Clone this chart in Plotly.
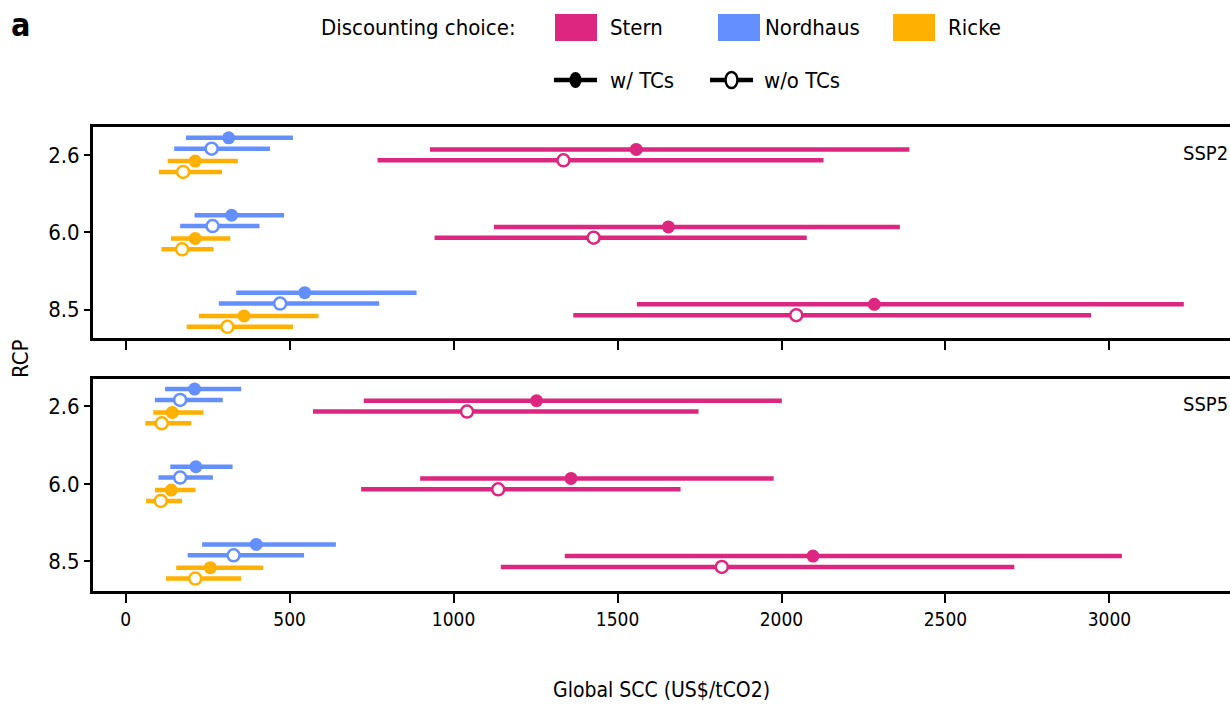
import plotly.graph_objects as go

# ---------------- data ----------------
rcp_labels = ["2.6", "6.0", "8.5"]
panels = ["SSP2", "SSP5"]
methods = ["Nordhaus", "Stern", "Ricke"]

# median, low, high for each RCP (2.6, 6.0, 8.5)
ssp2_stern_w_mid = [1557, 1655, 2283]
ssp2_stern_w_lo = [928, 1123, 1559]
ssp2_stern_w_hi = [2390, 2361, 3227]
ssp2_stern_wo_mid = [1335, 1427, 2045]
ssp2_stern_wo_lo = [768, 942, 1365]
ssp2_stern_wo_hi = [2128, 2077, 2944]

ssp2_nord_w_mid = [314, 323, 546]
ssp2_nord_w_lo = [184, 210, 337]
ssp2_nord_w_hi = [510, 483, 887]
ssp2_nord_wo_mid = [262, 265, 471]
ssp2_nord_wo_lo = [148, 166, 284]
ssp2_nord_wo_hi = [440, 408, 773]

ssp2_ricke_w_mid = [212, 212, 361]
ssp2_ricke_w_lo = [128, 138, 223]
ssp2_ricke_w_hi = [342, 319, 588]
ssp2_ricke_wo_mid = [175, 172, 310]
ssp2_ricke_wo_lo = [101, 109, 186]
ssp2_ricke_wo_hi = [294, 268, 510]

ssp5_stern_w_mid = [1253, 1358, 2096]
ssp5_stern_w_lo = [726, 898, 1339]
ssp5_stern_w_hi = [2001, 1976, 3038]
ssp5_stern_wo_mid = [1041, 1136, 1818]
ssp5_stern_wo_lo = [571, 718, 1144]
ssp5_stern_wo_hi = [1747, 1692, 2710]

ssp5_nord_w_mid = [210, 214, 398]
ssp5_nord_w_lo = [120, 136, 233]
ssp5_nord_w_hi = [352, 326, 641]
ssp5_nord_wo_mid = [166, 166, 329]
ssp5_nord_wo_lo = [89, 100, 189]
ssp5_nord_wo_hi = [296, 266, 544]

ssp5_ricke_w_mid = [142, 139, 258]
ssp5_ricke_w_lo = [84, 89, 154]
ssp5_ricke_w_hi = [237, 213, 419]
ssp5_ricke_wo_mid = [110, 107, 212]
ssp5_ricke_wo_lo = [60, 62, 123]
ssp5_ricke_wo_hi = [200, 172, 352]

colors = {"Stern": "#DC267F", "Nordhaus": "#648FFF", "Ricke": "#FFB000"}
# vertical offsets (in category units) for (method, with TCs?)
offsets = {
    ("Nordhaus", True): -0.22, ("Nordhaus", False): -0.08,
    ("Stern", True): -0.07, ("Stern", False): 0.07,
    ("Ricke", True): 0.08, ("Ricke", False): 0.22,
}

data = {
    ("SSP2", "Stern", True): (ssp2_stern_w_mid, ssp2_stern_w_lo, ssp2_stern_w_hi),
    ("SSP2", "Stern", False): (ssp2_stern_wo_mid, ssp2_stern_wo_lo, ssp2_stern_wo_hi),
    ("SSP2", "Nordhaus", True): (ssp2_nord_w_mid, ssp2_nord_w_lo, ssp2_nord_w_hi),
    ("SSP2", "Nordhaus", False): (ssp2_nord_wo_mid, ssp2_nord_wo_lo, ssp2_nord_wo_hi),
    ("SSP2", "Ricke", True): (ssp2_ricke_w_mid, ssp2_ricke_w_lo, ssp2_ricke_w_hi),
    ("SSP2", "Ricke", False): (ssp2_ricke_wo_mid, ssp2_ricke_wo_lo, ssp2_ricke_wo_hi),
    ("SSP5", "Stern", True): (ssp5_stern_w_mid, ssp5_stern_w_lo, ssp5_stern_w_hi),
    ("SSP5", "Stern", False): (ssp5_stern_wo_mid, ssp5_stern_wo_lo, ssp5_stern_wo_hi),
    ("SSP5", "Nordhaus", True): (ssp5_nord_w_mid, ssp5_nord_w_lo, ssp5_nord_w_hi),
    ("SSP5", "Nordhaus", False): (ssp5_nord_wo_mid, ssp5_nord_wo_lo, ssp5_nord_wo_hi),
    ("SSP5", "Ricke", True): (ssp5_ricke_w_mid, ssp5_ricke_w_lo, ssp5_ricke_w_hi),
    ("SSP5", "Ricke", False): (ssp5_ricke_wo_mid, ssp5_ricke_wo_lo, ssp5_ricke_wo_hi),
}

x_ticks = [0, 500, 1000, 1500, 2000, 2500, 3000]

# ---------------- layout helpers ----------------
W, H = 1230, 713
PL, PR, PT, PB = 93, 1230, 127, 591  # plot area in pixels


def px_x(px):
    return (px - PL) / (PR - PL)


def px_y(py):
    return (PB - py) / (PB - PT)


FONT = "DejaVu Sans Condensed, DejaVu Sans, sans-serif"

fig = go.Figure()

axes_for = {"SSP2": ("x", "y"), "SSP5": ("x2", "y2")}
for panel in panels:
    xa, ya = axes_for[panel]
    for method in methods:
        for with_tc in (True, False):
            mid, lo, hi = data[(panel, method, with_tc)]
            ys = [i + offsets[(method, with_tc)] for i in range(len(rcp_labels))]
            c = colors[method]
            fig.add_trace(go.Scatter(
                x=mid, y=ys, xaxis=xa, yaxis=ya, mode="markers",
                showlegend=False,
                error_x=dict(type="data", symmetric=False,
                             array=[h - m for h, m in zip(hi, mid)],
                             arrayminus=[m - l for m, l in zip(mid, lo)],
                             color=c, thickness=4.5, width=0),
                marker=dict(symbol="circle", size=13 if with_tc else 12,
                            color=c if with_tc else "white",
                            line=dict(color=c, width=0 if with_tc else 2.5)),
            ))

top_dom = [px_y(338), 1.0]
bot_dom = [0.0, px_y(379)]
xr = [(PL - 125.7) / 0.3279, (PR - 125.7) / 0.3279]

common_x = dict(range=xr, showgrid=False, zeroline=False, showline=True, mirror=True,
                linecolor="black", linewidth=3, ticks="outside", ticklen=9, tickwidth=2,
                tickcolor="black", tickvals=x_ticks)
common_y = dict(showgrid=False, zeroline=False, showline=True, mirror=False,
                linecolor="black", linewidth=3, ticks="outside", ticklen=6, tickwidth=2,
                tickcolor="black", tickvals=[0, 1, 2], ticktext=rcp_labels,
                tickfont=dict(family=FONT, size=22, color="black"))

fig.update_layout(
    width=W, height=H,
    margin=dict(l=PL, r=W - PR, t=PT, b=H - PB),
    paper_bgcolor="white", plot_bgcolor="white",
    font=dict(family=FONT, color="black"),
    xaxis=dict(**common_x, anchor="y", showticklabels=False),
    yaxis=dict(**common_y, domain=top_dom, range=[2.365, -0.36]),
    xaxis2=dict(**common_x, anchor="y2", matches="x", showticklabels=True,
                tickfont=dict(family=FONT, size=19, color="black")),
    yaxis2=dict(**common_y, domain=bot_dom, range=[2.38, -0.35]),
)

ann = []
shapes = []
# panel labels
ann.append(dict(text="SSP2", x=1.0, y=px_y(153), xref="paper", yref="paper",
                xanchor="right", yanchor="middle", showarrow=False,
                font=dict(family=FONT, size=20, color="black")))
ann.append(dict(text="SSP5", x=1.0, y=px_y(404), xref="paper", yref="paper",
                xanchor="right", yanchor="middle", showarrow=False,
                font=dict(family=FONT, size=20, color="black")))
# axis titles
ann.append(dict(text="Global SCC (US$/tCO2)", x=px_x(661), y=px_y(690), xref="paper", yref="paper",
                xanchor="center", yanchor="middle", showarrow=False,
                font=dict(family=FONT, size=21, color="black")))
ann.append(dict(text="RCP", x=px_x(20), y=px_y(359), xref="paper", yref="paper",
                xanchor="center", yanchor="middle", showarrow=False, textangle=-90,
                font=dict(family=FONT, size=22, color="black")))
# panel letter
ann.append(dict(text="<b>a</b>", x=px_x(9), y=px_y(25), xref="paper", yref="paper",
                xanchor="left", yanchor="middle", showarrow=False,
                font=dict(family=FONT, size=32, color="black")))

# legend row 1
ann.append(dict(text="Discounting choice:", x=px_x(518), y=px_y(27), xref="paper", yref="paper",
                xanchor="right", yanchor="middle", showarrow=False,
                font=dict(family=FONT, size=22, color="black")))
leg_items = [("Stern", 555, 608), ("Nordhaus", 718, 763), ("Ricke", 893, 946)]
for name, sx, tx in leg_items:
    shapes.append(dict(type="rect", xref="paper", yref="paper",
                       x0=px_x(sx), x1=px_x(sx + 42), y0=px_y(41), y1=px_y(14),
                       fillcolor=colors[name], line=dict(width=0)))
    ann.append(dict(text=name, x=px_x(tx), y=px_y(27), xref="paper", yref="paper",
                    xanchor="left", yanchor="middle", showarrow=False,
                    font=dict(family=FONT, size=22, color="black")))

# legend row 2 (line + marker glyphs)
for (lx, tx, label, filled) in [(554, 608, "w/ TCs", True), (710, 762, "w/o TCs", False)]:
    shapes.append(dict(type="line", xref="paper", yref="paper",
                       x0=px_x(lx), x1=px_x(lx + 43), y0=px_y(80), y1=px_y(80),
                       line=dict(color="black", width=4.5)))
    cx = lx + 21.5
    shapes.append(dict(type="circle", xref="paper", yref="paper",
                       x0=px_x(cx - 6), x1=px_x(cx + 6), y0=px_y(88), y1=px_y(72),
                       fillcolor="black" if filled else "white",
                       line=dict(color="black", width=0 if filled else 2.5)))
    ann.append(dict(text=label, x=px_x(tx), y=px_y(80), xref="paper", yref="paper",
                    xanchor="left", yanchor="middle", showarrow=False,
                    font=dict(family=FONT, size=22, color="black")))

fig.update_layout(annotations=ann, shapes=shapes)
fig.write_html("out.html")
